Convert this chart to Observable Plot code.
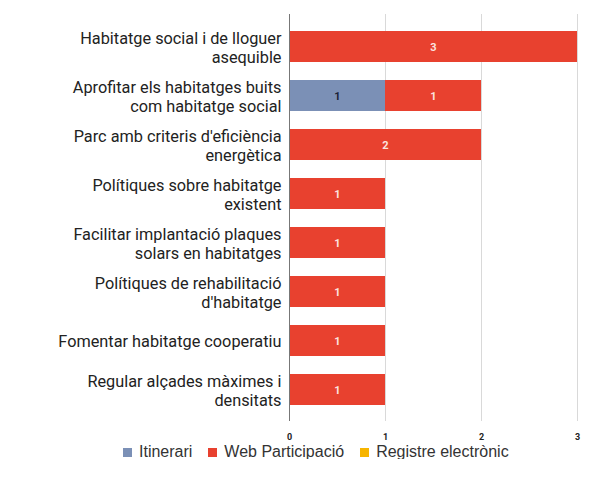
<!DOCTYPE html>
<html>
<head>
<meta charset="utf-8">
<script src="https://cdn.jsdelivr.net/npm/d3@7"></script>
<script src="https://cdn.jsdelivr.net/npm/@observablehq/plot@0.6"></script>
<style>
  body { margin: 0; background: #fff; }
  #chart { position: relative; width: 606px; }
  .legend { display: flex; align-items: center; font-family: "Liberation Sans", Arial, sans-serif; font-size: 16px; color: #333; margin-left: 123px; margin-top: 0px; height: 14px; }
  .legend span.sw { display: inline-block; width: 9px; height: 9px; margin-right: 7px; }
  .legend span.it { margin-right: 16px; }
</style>
</head>
<body>
<div id="chart"></div>
<script>
const categories = [
  "Habitatge social i de lloguer\nasequible",
  "Aprofitar els habitatges buits\ncom habitatge social",
  "Parc amb criteris d'eficiència\nenergètica",
  "Polítiques sobre habitatge\nexistent",
  "Facilitar implantació plaques\nsolars en habitatges",
  "Polítiques de rehabilitació\nd'habitatge",
  "Fomentar habitatge cooperatiu",
  "Regular alçades màximes i\ndensitats"
];
const seriesNames = ["Itinerari", "Web Participació", "Registre electrònic"];
const itinerari = [0, 1, 0, 0, 0, 0, 0, 0];
const webParticipacio = [3, 1, 2, 1, 1, 1, 1, 1];
const registreElectronic = [0, 0, 0, 0, 0, 0, 0, 0];
const xTicks = [0, 1, 2, 3];
const colors = ["#7b90b6", "#e8412f", "#f7b500"];

const seriesValues = [itinerari, webParticipacio, registreElectronic];
const data = [];
seriesNames.forEach((s, si) => categories.forEach((c, ci) => {
  data.push({cat: c, series: s, value: seriesValues[si][ci]});
}));
const nonZero = data.filter(d => d.value > 0);

const W = 606, H = 445, mT = 14, mB = 24;
const plot = Plot.plot({
  width: W, height: H,
  marginLeft: 289, marginRight: 29, marginTop: mT, marginBottom: mB,
  style: {fontFamily: "Roboto, sans-serif", background: "#fff"},
  x: {domain: [0, 3], ticks: xTicks, label: null},
  y: {domain: categories, label: null, paddingInner: 0.37, paddingOuter: 0.31, axis: null},
  color: {domain: seriesNames, range: colors},
  marks: [
    Plot.ruleX(xTicks.filter(t => t > 0), {stroke: "#d9d9d9", strokeWidth: 1}),
    Plot.barX(nonZero, Plot.stackX({x: "value", y: "cat", fill: "series", order: seriesNames})),
    Plot.text(nonZero, Plot.stackX({x: "value", y: "cat", z: "series", order: seriesNames, text: d => String(d.value),
      fill: d => d.series === "Itinerari" ? "#1b2338" : "#fbe3df", fontSize: 11, fontWeight: "bold"})),
    Plot.ruleX([0], {stroke: "#777", strokeWidth: 1}),
    Plot.axisX({ticks: xTicks, tickSize: 0, tickPadding: 12, fontSize: 9, fontWeight: "bold", fill: "#222", label: null, tickFormat: d => String(d)}),
    Plot.text(categories, {y: d => d, frameAnchor: "left", dx: -8, textAnchor: "end", fontSize: 16.3, fill: "#222", lineHeight: 1.17, text: d => d})
  ]
});
document.getElementById("chart").appendChild(plot);

const legend = document.createElement("div");
legend.className = "legend";
seriesNames.forEach((s, i) => {
  const sw = document.createElement("span");
  sw.className = "sw";
  sw.style.background = colors[i];
  legend.appendChild(sw);
  const t = document.createElement("span");
  t.textContent = s;
  if (i < seriesNames.length - 1) t.className = "it";
  legend.appendChild(t);
});
document.getElementById("chart").appendChild(legend);
</script>
</body>
</html>
